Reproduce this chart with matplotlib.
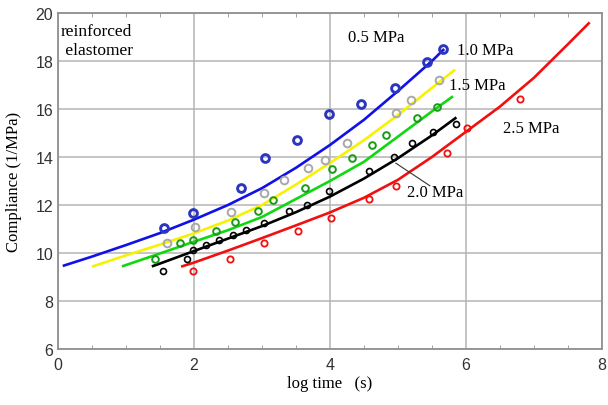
import matplotlib
matplotlib.use("Agg")
import matplotlib.pyplot as plt
from matplotlib.ticker import MultipleLocator

# ---- data ----
# fitted curves
blue_cx = [0.07, 0.5, 1.0, 1.5, 2.0, 2.5, 3.0, 3.5, 4.0, 4.5, 5.0, 5.5, 5.68]
blue_cy = [9.46, 9.85, 10.33, 10.83, 11.39, 12.0, 12.7, 13.55, 14.5, 15.55, 16.75, 18.0, 18.5]

yellow_cx = [0.5, 1.0, 1.5, 2.0, 2.5, 3.0, 3.5, 4.0, 4.5, 5.0, 5.5, 5.84]
yellow_cy = [9.43, 9.9, 10.35, 10.82, 11.35, 12.0, 12.85, 13.75, 14.7, 15.75, 16.88, 17.64]

green_cx = [0.94, 1.5, 2.0, 2.5, 3.0, 3.5, 4.0, 4.5, 5.0, 5.5, 5.81]
green_cy = [9.44, 9.98, 10.47, 10.95, 11.5, 12.25, 13.0, 13.8, 14.85, 15.9, 16.53]

black_cx = [1.38, 1.5, 2.0, 2.5, 3.0, 3.5, 4.0, 4.5, 5.0, 5.5, 5.86]
black_cy = [9.44, 9.56, 10.08, 10.6, 11.12, 11.7, 12.35, 13.1, 13.95, 14.9, 15.65]

red_cx = [1.81, 2.0, 2.5, 3.0, 3.5, 4.0, 4.5, 5.0, 5.5, 6.0, 6.5, 7.0, 7.5, 7.82]
red_cy = [9.43, 9.6, 10.1, 10.62, 11.15, 11.69, 12.3, 13.05, 14.0, 15.05, 16.1, 17.3, 18.7, 19.61]

# measured points
blue_px = [1.56, 1.99, 2.69, 3.05, 3.51, 3.99, 4.46, 4.96, 5.42, 5.66]
blue_py = [11.04, 11.65, 12.69, 13.96, 14.72, 15.79, 16.21, 16.88, 17.96, 18.48]

gray_px = [1.60, 2.01, 2.55, 3.03, 3.32, 3.68, 3.93, 4.25, 4.97, 5.19, 5.60]
gray_py = [10.4, 11.1, 11.72, 12.49, 13.04, 13.55, 13.88, 14.6, 15.82, 16.38, 17.22]

green_px = [1.43, 1.80, 1.99, 2.32, 2.61, 2.94, 3.16, 3.63, 4.03, 4.33, 4.62, 4.83, 5.28, 5.57]
green_py = [9.75, 10.4, 10.56, 10.93, 11.3, 11.77, 12.22, 12.71, 13.5, 13.96, 14.5, 14.93, 15.62, 16.1]

black_px = [1.54, 1.89, 1.99, 2.18, 2.37, 2.57, 2.77, 3.03, 3.40, 3.66, 3.98, 4.58, 4.94, 5.21, 5.51, 5.86]
black_py = [9.24, 9.75, 10.14, 10.33, 10.54, 10.76, 10.96, 11.24, 11.73, 12.01, 12.6, 13.4, 14.01, 14.6, 15.03, 15.38]

red_px = [1.99, 2.53, 3.03, 3.53, 4.01, 4.57, 4.97, 5.72, 6.01, 6.79]
red_py = [9.26, 9.75, 10.4, 10.93, 11.45, 12.25, 12.8, 14.17, 15.2, 16.42]

x_ticks = [0, 2, 4, 6, 8]
y_ticks = [6, 8, 10, 12, 14, 16, 18, 20]

series_labels = ["0.5 MPa", "1.0 MPa", "1.5 MPa", "2.0 MPa", "2.5 MPa"]
label_x = [4.68, 6.29, 6.16, 5.54, 6.96]
label_y = [19.0, 18.46, 17.0, 12.54, 15.2]

# ---- figure ----
fig = plt.figure(figsize=(6.08, 4.06), dpi=100)
ax = fig.add_axes([0.0954, 0.138, 0.8946, 0.8275])

serif = "Liberation Serif"
sans = "Liberation Sans"

lw = 1.9
ax.plot(blue_cx, blue_cy, color="#1010e8", lw=lw, solid_capstyle="butt", solid_joinstyle="round", zorder=3)
ax.plot(yellow_cx, yellow_cy, color="#f6f200", lw=lw, solid_capstyle="butt", solid_joinstyle="round", zorder=3)
ax.plot(green_cx, green_cy, color="#10d810", lw=lw, solid_capstyle="butt", solid_joinstyle="round", zorder=3)
ax.plot(black_cx, black_cy, color="#000000", lw=lw, solid_capstyle="butt", solid_joinstyle="round", zorder=3)
ax.plot(red_cx, red_cy, color="#f01010", lw=lw, solid_capstyle="butt", solid_joinstyle="round", zorder=3)

ax.plot(blue_px, blue_py, ls="none", marker="o", ms=5.6, mfc="none", mec="#2a35c0", mew=2.1, zorder=4)
ax.plot(gray_px, gray_py, ls="none", marker="o", ms=5.5, mfc="none", mec="#a8a8a8", mew=1.4, zorder=4)
ax.plot(green_px, green_py, ls="none", marker="o", ms=4.8, mfc="none", mec="#1a9a1a", mew=1.4, zorder=4)
ax.plot(black_px, black_py, ls="none", marker="o", ms=4.3, mfc="none", mec="#000000", mew=1.2, zorder=4)
ax.plot(red_px, red_py, ls="none", marker="o", ms=4.5, mfc="none", mec="#f01010", mew=1.3, zorder=4)

ax.set_xlim(0, 8)
ax.set_ylim(6, 20)
ax.set_xticks(x_ticks)
ax.set_yticks(y_ticks)
ax.xaxis.set_minor_locator(MultipleLocator(0.5))
ax.grid(True, which="major", color="#b4b4b4", lw=1.1, zorder=0)
ax.set_axisbelow(True)
for s in ax.spines.values():
    s.set_color("#909090")
    s.set_linewidth(1.3)
ax.tick_params(axis="x", which="major", direction="in", length=0, labelsize=11.5,
               labelcolor="#333333", pad=6)
ax.tick_params(axis="y", which="major", direction="in", length=0, labelsize=11.5,
               labelcolor="#333333", pad=3.5)
ax.tick_params(axis="x", which="minor", direction="in", length=3, top=True, bottom=True,
               color="#909090")
for lab in ax.get_xticklabels() + ax.get_yticklabels():
    lab.set_fontfamily(sans)

ax.set_xlabel("log time   (s)", fontfamily=serif, fontsize=12)
ax.set_ylabel("Compliance (1/MPa)", fontfamily=serif, fontsize=12)
ax.xaxis.set_label_coords(0.5, -0.078)
ax.yaxis.set_label_coords(-0.066, 0.5)

ax.text(0.04, 18.85, "reinforced\n elastomer", fontfamily=serif, fontsize=12.5,
        ha="left", va="center", linespacing=1.25)

for t, x, y in zip(series_labels, label_x, label_y):
    ax.text(x, y, t, fontfamily=serif, fontsize=12, ha="center", va="center")

ax.plot([4.97, 5.47], [13.74, 12.80], color="#333333", lw=0.8, zorder=4)

fig.savefig("out.png", dpi=100)
